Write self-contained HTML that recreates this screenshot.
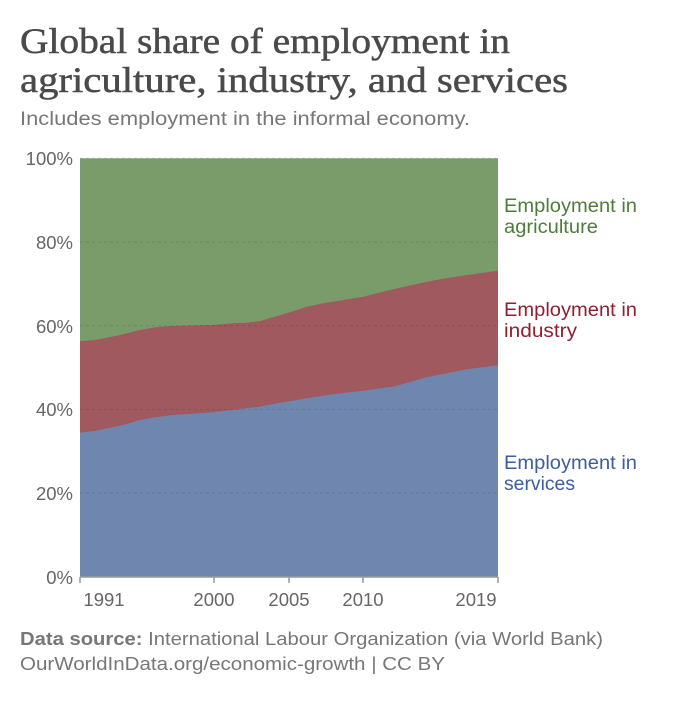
<!DOCTYPE html>
<html><head><meta charset="utf-8"><style>
body{margin:0;background:#fff;width:700px;height:700px;overflow:hidden;font-family:"Liberation Sans",sans-serif}
</style></head><body>
<svg width="700" height="700" xmlns="http://www.w3.org/2000/svg">
<text x="20" y="53" font-family="Liberation Serif,serif" font-size="36" fill="#4a4a4a" stroke="#4a4a4a" stroke-width="0.5" textLength="490" lengthAdjust="spacingAndGlyphs">Global share of employment in</text>
<text x="20" y="92" font-family="Liberation Serif,serif" font-size="36" fill="#4a4a4a" stroke="#4a4a4a" stroke-width="0.5" textLength="548" lengthAdjust="spacingAndGlyphs">agriculture, industry, and services</text>
<text x="20" y="125" font-size="19" fill="#777" textLength="450" lengthAdjust="spacingAndGlyphs">Includes employment in the informal economy.</text>
<rect x="80" y="158.3" width="418" height="418.4" fill="#7a9c6a"/>
<path d="M80,341.3 L95,340 120,335 140,330 155,327.3 170,326 213,325 233,323.3 247,322.7 260,321 287,313.3 307,306.7 323,303.3 363,296.7 393,289.3 427,281.7 443,278.7 467,275 498,270.7 L498,577 80,577Z" fill="#a0595f"/>
<path d="M80,432.7 L95,431 123,425 140,420 153,417.7 170,415.3 213,412.3 260,406.7 273,404 307,398.3 333,394.3 363,390.7 393,386.7 427,377.3 467,369.3 498,365.3 L498,577 80,577Z" fill="#6f87ae"/>
<g stroke="#000" stroke-opacity="0.12" stroke-dasharray="3,3">
<line x1="80" x2="498" y1="158.3" y2="158.3"/><line x1="80" x2="498" y1="242" y2="242"/><line x1="80" x2="498" y1="325.7" y2="325.7"/><line x1="80" x2="498" y1="409.4" y2="409.4"/><line x1="80" x2="498" y1="493" y2="493"/>
</g>
<line x1="80" x2="498" y1="577" y2="577" stroke="#999" stroke-width="1.5"/>
<g stroke="#999" stroke-width="1.5"><line x1="80" x2="80" y1="577" y2="583"/><line x1="214" x2="214" y1="577" y2="583"/><line x1="289" x2="289" y1="577" y2="583"/><line x1="363" x2="363" y1="577" y2="583"/><line x1="498" x2="498" y1="577" y2="583"/></g>
<g font-size="18.5" fill="#666" text-anchor="end">
<text x="73" y="165">100%</text><text x="73" y="249">80%</text><text x="73" y="333">60%</text><text x="73" y="416">40%</text><text x="73" y="500">20%</text><text x="73" y="584">0%</text>
</g>
<g font-size="18.5" fill="#666" text-anchor="middle">
<text x="104" y="606">1991</text><text x="214" y="606">2000</text><text x="289" y="606">2005</text><text x="363" y="606">2010</text><text x="476" y="606">2019</text>
</g>
<g font-size="19">
<text x="504" y="212" fill="#4d7d39" textLength="133" lengthAdjust="spacingAndGlyphs">Employment in</text><text x="504" y="233" fill="#4d7d39" textLength="94" lengthAdjust="spacingAndGlyphs">agriculture</text>
<text x="504" y="316" fill="#8f2030" textLength="133" lengthAdjust="spacingAndGlyphs">Employment in</text><text x="504" y="337" fill="#8f2030" textLength="73" lengthAdjust="spacingAndGlyphs">industry</text>
<text x="504" y="469" fill="#3c5e9c" textLength="133" lengthAdjust="spacingAndGlyphs">Employment in</text><text x="504" y="490" fill="#3c5e9c" textLength="71" lengthAdjust="spacingAndGlyphs">services</text>
</g>
<text x="20" y="645" font-size="18" fill="#777" textLength="583" lengthAdjust="spacingAndGlyphs"><tspan font-weight="bold">Data source:</tspan> International Labour Organization (via World Bank)</text>
<text x="20" y="670" font-size="18" fill="#777" textLength="425" lengthAdjust="spacingAndGlyphs">OurWorldInData.org/economic-growth | CC BY</text>
</svg>
</body></html>
